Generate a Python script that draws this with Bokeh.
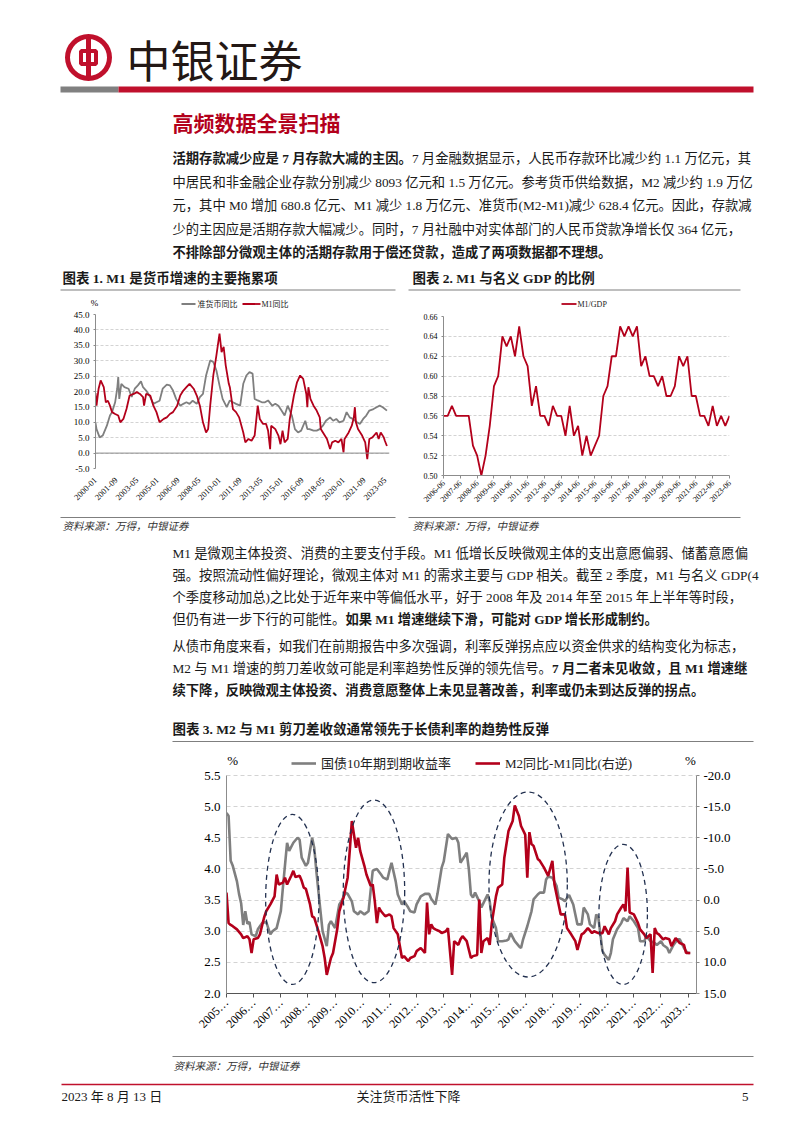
import math
from bokeh.plotting import figure
from bokeh.models import Range1d, LinearAxis, FixedTicker, NumeralTickFormatter, Span, Legend, LegendItem, Label
from bokeh.layouts import column, row
from bokeh.core.properties import value
from bokeh.embed import file_html
from bokeh.resources import INLINE

# ======================= DATA =======================
# Chart 1: monthly, month offset from 2000-01
c1_ticks = [0, 20, 40, 60, 80, 100, 120, 140, 160, 180, 200, 220, 240, 260, 280]
c1_tick_labels = ["2000-01", "2001-09", "2003-05", "2005-01", "2006-09", "2008-05", "2010-01",
                  "2011-09", "2013-05", "2015-01", "2016-09", "2018-05", "2020-01", "2021-09", "2023-05"]
c1_yticks = [-5, 0, 5, 10, 15, 20, 25, 30, 35, 40, 45]
c1_series = ["准货币同比", "M1同比"]
c1_quasi_month = [0, 1, 4, 7, 11, 14, 16, 19, 21, 22, 23, 25, 28, 32, 35, 38, 41, 44, 46, 49, 53, 56, 59, 62,
                  65, 69, 72, 75, 78, 82, 85, 88, 91, 94, 98, 101, 104, 107, 111, 114, 117, 120, 123, 127,
                  130, 133, 136, 140, 143, 146, 149, 152, 154, 157, 161, 164, 167, 171, 174, 177, 180, 183,
                  186, 190, 193, 196, 199, 203, 205, 207, 211, 214, 217, 220, 223, 227, 230, 233, 236, 240,
                  243, 246, 249, 253, 256, 259, 262, 265, 269, 272, 275, 278, 282]
c1_quasi_yoy = [9.8, 7.8, 5.1, 5.7, 8.9, 12.2, 13.3, 16.5, 20.9, 24.7, 17.6, 22.5, 21.4, 20.9, 18.2, 20.9,
                22.0, 23.3, 21.4, 20.3, 18.2, 16.0, 16.5, 17.0, 20.9, 22.2, 22.0, 20.3, 17.6, 15.4, 16.0,
                16.5, 16.0, 17.0, 16.0, 18.2, 19.2, 25.2, 30.1, 29.6, 26.8, 22.0, 17.6, 14.9, 17.1, 16.5,
                16.0, 15.4, 22.5, 25.2, 26.3, 25.8, 17.6, 17.1, 16.5, 16.5, 17.1, 15.4, 16.0, 15.4, 13.8,
                12.2, 15.4, 12.2, 7.8, 6.7, 7.3, 10.5, 7.8, 7.8, 7.3, 7.3, 7.8, 8.9, 10.5, 11.6, 10.5,
                11.1, 10.0, 10.5, 13.3, 11.6, 11.1, 10.0, 9.5, 11.1, 12.2, 13.8, 14.3, 14.9, 15.4, 14.9, 13.8]
c1_m1_month = [0, 1, 3, 5, 8, 10, 12, 14, 16, 19, 22, 24, 27, 30, 33, 37, 40, 43, 46, 47, 49, 53, 56, 59,
               62, 66, 69, 72, 75, 79, 82, 85, 88, 91, 95, 98, 101, 104, 107, 109, 111, 114, 117, 120,
               122, 124, 126, 129, 130, 133, 136, 139, 143, 145, 148, 151, 154, 157, 159, 162, 165, 167,
               169, 170, 174, 177, 179, 181, 183, 186, 188, 192, 195, 198, 201, 204, 205, 206, 208, 211,
               214, 217, 218, 221, 224, 227, 229, 232, 235, 238, 240, 241, 245, 248, 250, 251, 252, 254,
               258, 261, 263, 265, 268, 272, 274, 276, 279, 280, 282]
c1_m1_yoy = [19.5, 15.4, 20.9, 23.6, 21.4, 16.5, 17.0, 15.4, 13.3, 12.7, 12.2, 10.0, 11.1, 14.3, 18.7,
             19.2, 19.8, 19.2, 18.2, 15.4, 19.2, 18.7, 15.4, 13.3, 10.0, 11.1, 11.6, 12.7, 13.3, 15.4,
             18.7, 20.3, 21.4, 22.5, 20.9, 18.7, 15.4, 10.0, 6.7, 7.8, 15.4, 25.2, 31.7, 38.8, 32.8,
             34.5, 28.5, 22.5, 21.4, 14.3, 13.3, 11.6, 6.7, 3.5, 4.6, 4.0, 5.7, 15.4, 11.1, 9.5, 9.5,
             7.3, 1.3, 8.9, 7.8, 5.7, 2.9, 7.3, 3.5, 4.6, 11.1, 18.7, 23.0, 25.2, 24.1, 19.2, 14.9, 21.4,
             17.6, 15.4, 13.8, 11.6, 7.8, 6.2, 4.6, 1.3, 3.5, 4.0, 3.5, 4.6, 0.2, 4.6, 6.7, 8.9, 11.6,
             14.9, 10.0, 7.8, 5.7, 3.5, -2.0, 4.6, 5.1, 6.7, 4.6, 6.7, 5.1, 4.0, 2.3]

# Chart 2: quarterly M1 / nominal GDP, 2006-06 .. 2023-06
c2_series = "M1/GDP"
c2_ratio = [0.56, 0.56, 0.57, 0.56, 0.56, 0.56, 0.56, 0.53, 0.52, 0.50,
            0.52, 0.55, 0.59, 0.60, 0.64, 0.63, 0.64, 0.62, 0.65, 0.62,
            0.61, 0.57, 0.59, 0.56, 0.56, 0.55, 0.57, 0.56, 0.56, 0.54,
            0.57, 0.54, 0.55, 0.52, 0.54, 0.52, 0.53, 0.54, 0.58, 0.59,
            0.62, 0.62, 0.65, 0.64, 0.65, 0.64, 0.65, 0.61, 0.62, 0.60,
            0.60, 0.59, 0.60, 0.58, 0.58, 0.59, 0.62, 0.61, 0.62, 0.58,
            0.58, 0.56, 0.56, 0.55, 0.57, 0.55, 0.56, 0.55, 0.56]
c2_ticks = list(range(0, 69, 4))
c2_tick_labels = ["2006-06", "2007-06", "2008-06", "2009-06", "2010-06", "2011-06", "2012-06", "2013-06",
                  "2014-06", "2015-06", "2016-06", "2017-06", "2018-06", "2019-06", "2020-06", "2021-06",
                  "2022-06", "2023-06"]
c2_yticks = [0.50, 0.52, 0.54, 0.56, 0.58, 0.60, 0.62, 0.64, 0.66]

# Chart 3: monthly, month offset from 2005-01
c3_series = ["国债10年期到期收益率", "M2同比-M1同比(右逆)"]
c3_ticks = list(range(0, 222, 13))
c3_tick_labels = ["2005…", "2006…", "2007…", "2008…", "2009…", "2010…", "2011…", "2012…", "2013…",
                  "2014…", "2015…", "2016…", "2018…", "2019…", "2020…", "2021…", "2022…", "2023…"]
c3_left_ticks = [2.0, 2.5, 3.0, 3.5, 4.0, 4.5, 5.0, 5.5]
c3_right_ticks = [-20, -15, -10, -5, 0, 5, 10, 15]
c3_bond_month = [0, 1, 2, 3, 5, 6, 7, 8, 9, 10, 11, 12, 14, 15, 17, 19, 20, 21, 22, 24, 26, 27, 29, 30, 32,
                 34, 35, 36, 38, 39, 41, 42, 43, 45, 46, 48, 49, 50, 52, 54, 55, 57, 58, 60, 61, 63, 64, 66,
                 68, 69, 70, 72, 74, 75, 77, 78, 79, 81, 82, 84, 85, 87, 88, 90, 91, 93, 95, 97, 98, 100,
                 101, 103, 104, 106, 108, 110, 111, 112, 113, 115, 116, 117, 118, 119, 121, 122, 123, 125,
                 126, 127, 129, 130, 132, 134, 135, 136, 138, 140, 141, 142, 144, 146, 147, 149, 150, 152,
                 153, 154, 156, 158, 159, 161, 162, 164, 166, 167, 168, 170, 171, 173, 174, 176, 177, 178,
                 180, 181, 183, 184, 185, 187, 189, 190, 192, 193, 195, 197, 198, 200, 201, 203, 205, 206,
                 208, 209, 211, 212, 214, 216, 217, 219, 220, 221, 222]
c3_bond_yield = [4.90, 4.85, 4.13, 4.05, 3.80, 3.60, 3.45, 3.10, 3.32, 3.12, 3.15, 2.95, 2.92, 3.03, 3.13,
                 3.15, 3.05, 2.95, 3.00, 3.05, 3.32, 3.70, 4.42, 4.29, 4.42, 4.50, 4.47, 4.18, 4.05, 4.10,
                 4.50, 4.34, 3.97, 3.32, 3.00, 2.76, 3.10, 3.16, 3.05, 3.43, 3.48, 3.62, 3.60, 3.48, 3.32,
                 3.27, 3.32, 3.27, 3.32, 3.65, 3.97, 4.00, 3.91, 3.86, 3.83, 3.97, 4.10, 3.80, 3.59, 3.43,
                 3.48, 3.38, 3.32, 3.30, 3.43, 3.56, 3.60, 3.60, 3.52, 3.43, 3.60, 4.02, 4.12, 4.56, 4.48,
                 4.50, 4.42, 4.10, 4.15, 4.26, 4.00, 3.59, 3.54, 3.62, 3.48, 3.38, 3.45, 3.59, 3.48, 3.22,
                 3.05, 2.84, 2.84, 2.85, 2.87, 2.97, 2.84, 2.76, 2.73, 2.87, 3.08, 3.32, 3.51, 3.59, 3.62,
                 3.62, 3.83, 3.88, 3.86, 3.73, 3.54, 3.51, 3.48, 3.58, 3.43, 3.27, 3.11, 3.11, 3.38, 3.27,
                 3.11, 3.05, 3.27, 3.22, 2.68, 2.62, 2.54, 2.65, 2.87, 3.03, 3.13, 3.21, 3.16, 3.24, 3.16,
                 3.05, 2.84, 2.84, 2.92, 2.84, 2.81, 2.78, 2.84, 2.78, 2.73, 2.65, 2.78, 2.87, 2.87, 2.73,
                 2.68, 2.65, 2.65]
c3_gap_month = [0, 1, 2, 3, 5, 7, 8, 10, 11, 12, 13, 15, 16, 18, 19, 21, 23, 24, 25, 27, 28, 29, 31, 32, 33,
                35, 36, 37, 38, 40, 41, 42, 44, 46, 47, 48, 50, 51, 53, 54, 56, 58, 59, 60, 62, 63, 64, 66,
                67, 69, 70, 71, 72, 73, 74, 76, 78, 79, 80, 82, 84, 85, 87, 88, 90, 91, 93, 95, 96, 97, 98,
                99, 100, 102, 103, 105, 106, 108, 109, 110, 111, 112, 113, 115, 117, 118, 120, 121, 122,
                123, 125, 126, 127, 129, 130, 132, 133, 135, 137, 138, 140, 141, 143, 144, 145, 146, 147,
                149, 150, 152, 154, 156, 157, 159, 160, 162, 163, 165, 167, 168, 170, 171, 173, 175, 176,
                178, 180, 181, 183, 184, 186, 187, 189, 190, 191, 192, 193, 195, 197, 198, 200, 201, 203,
                204, 205, 206, 207, 209, 210, 212, 213, 215, 217, 219, 220, 222]
c3_gap_value = [-1.2, 3.7, 4.0, 4.2, 4.7, 5.5, 6.1, 5.8, 6.3, 8.5, 6.3, 6.1, 5.5, 2.8, 1.8, 0.7, -0.6, -4.1,
                -2.5, -2.8, -3.6, -2.5, -3.9, -4.7, -3.7, -3.9, -3.1, -2.0, -1.8, 0.7, 2.6, 2.8, 5.0, 7.4,
                9.3, 12.0, 9.3, 8.5, 4.7, 1.8, -0.4, -3.6, -7.9, -12.7, -8.4, -10.0, -7.9, -5.5, -4.1, -2.3,
                -2.5, 0.2, 3.7, 1.2, 1.8, 2.6, 2.3, 2.6, 4.5, 5.5, 9.3, 9.0, 9.8, 9.3, 9.0, 8.2, 7.7, 8.5,
                0.4, 5.5, 3.9, 4.5, 4.7, 5.0, 5.3, 5.0, 4.5, 12.0, 6.6, 6.9, 7.2, 6.3, 5.8, 6.6, 9.3, 9.0,
                8.8, -0.1, 8.5, 6.6, 6.1, 7.2, 3.7, -0.6, -2.0, -2.5, -6.8, -11.1, -12.7, -15.2, -13.5,
                -11.9, -10.5, -3.6, -10.9, -9.0, -8.7, -6.6, -6.3, -5.2, -3.9, -6.3, -2.5, 0.7, 2.3, 2.3,
                4.5, 5.5, 6.6, 8.0, 5.5, 5.3, 4.5, 5.3, 5.0, 5.3, 5.3, 4.2, 5.5, 4.5, 3.4, 2.3, 1.2, 0.7,
                1.8, -5.2, 2.0, 2.3, 3.7, 4.7, 5.5, 6.1, 5.5, 11.7, 4.5, 5.3, 5.5, 6.3, 6.1, 6.3, 7.4, 6.1,
                6.9, 7.2, 8.5, 8.5]
# highlighted periods (dashed ellipses): centre month, centre yield, width in months, height in yield
c3_ellipse_month = [31.5, 70.6, 144.4, 189.9]
c3_ellipse_yield = [3.51, 3.64, 3.75, 3.27]
c3_ellipse_months_wide = [25.5, 29.4, 37.5, 23.2]
c3_ellipse_yield_tall = [2.73, 2.93, 2.97, 2.25]

# ======================= STYLE =======================
SERIF = "Liberation Serif, Noto Sans CJK SC"
SANS = "Noto Sans CJK SC"
RED = "#B3001B"
BRAND = "#C0102C"
GRAY = "#7F7F7F"
AXIS = "#8C8C8C"
GRID = "#D3D3D3"
INK = "#1A1A1A"
W = 802
PS = 13.3  # paragraph font size


def tw(s, size, bold=False):
    w = 0.0
    for ch in s:
        if ord(ch) > 0x2000:
            w += 1.0
        elif ch == " ":
            w += 0.25
        elif ch.isdigit():
            w += 0.5
        elif ch in ".,":
            w += 0.25
        elif ch in "()-":
            w += 0.333
        elif ch == "M":
            w += 0.944 if bold else 0.889
        elif ch in "GD":
            w += 0.778 if bold else 0.722
        elif ch == "P":
            w += 0.611 if bold else 0.556
        else:
            w += 0.5
    return w * size


def sheet(y0, y1):
    return figure(width=W, height=y1 - y0, x_range=Range1d(0, W), y_range=Range1d(y1, y0),
                  x_axis_type=None, y_axis_type=None, toolbar_location=None, frame_align=False,
                  output_backend="svg", min_border=0, outline_line_color=None)


def txt(p, x, y, s, size="13.3px", font=SERIF, style="normal", color=INK, align="left"):
    p.text(x=[x], y=[y], text=[s], text_font=value(font), text_font_size=size,
           text_font_style=style, text_color=color, text_align=align, text_baseline="middle")


def para(p, x, y, parts, size=PS):
    for s, bold in parts:
        txt(p, x, y, s, size="%spx" % size, style="bold" if bold else "normal")
        x += tw(s, size, bold)


def hline(p, x0, x1, y, color=GRAY, width=1.0):
    p.segment(x0=[x0], y0=[y], x1=[x1], y1=[y], line_color=color, line_width=width)


def key(p, x0, x1, y, color, width, label, size, gap=2):
    hline(p, x0, x1, y, color=color, width=width)
    txt(p, x1 + gap, y, label, size=size, color="#222222")


SRC = "资料来源：万得，中银证券"

# ======================= SEGMENT 1 : header + paragraph 1 + chart titles + legends =======================
s1 = sheet(0, 310)
s1.annulus(x=[88], y=[57], inner_radius=18.5, outer_radius=23.5, fill_color=BRAND, line_color=None)
s1.rect(x=[88], y=[57], width=15, height=13, fill_color=None, line_color=BRAND, line_width=4)
s1.rect(x=[88], y=[57], width=5, height=41, fill_color=BRAND, line_color=None)
txt(s1, 126, 58, "中银证券", size="44px", font=SANS, color="#231815")
s1.quad(left=[60, 118], right=[118, 753], top=[86, 86], bottom=[92, 92],
        fill_color=["#808080", BRAND], line_color=None)
txt(s1, 172, 121, "高频数据全景扫描", size="21px", font=SANS, style="bold", color=RED)

para(s1, 172, 158, [("活期存款减少应是 7 月存款大减的主因。", True),
                    ("7 月金融数据显示，人民币存款环比减少约 1.1 万亿元，其", False)])
para(s1, 172, 182, [("中居民和非金融企业存款分别减少 8093 亿元和 1.5 万亿元。参考货币供给数据，M2 减少约 1.9 万亿", False)])
para(s1, 172, 205, [("元，其中 M0 增加 680.8 亿元、M1 减少 1.8 万亿元、准货币(M2-M1)减少 628.4 亿元。因此，存款减", False)])
para(s1, 172, 229, [("少的主因应是活期存款大幅减少。同时，7 月社融中对实体部门的人民币贷款净增长仅 364 亿元，", False)])
para(s1, 172, 252, [("不排除部分微观主体的活期存款用于偿还贷款，造成了两项数据都不理想。", True)])

txt(s1, 62, 278, "图表 1. M1 是货币增速的主要拖累项", size="13.5px", style="bold")
txt(s1, 412, 278, "图表 2. M1 与名义 GDP 的比例", size="13.5px", style="bold")
hline(s1, 60, 395, 289.5, width=1.2)
hline(s1, 408, 740, 289.5, width=1.2)
# legends of charts 1 and 2
txt(s1, 94, 302, "%", size="9px", align="center", color="#000000")
key(s1, 181, 195, 303.5, GRAY, 1.8, c1_series[0], "8px")
key(s1, 242, 260, 303.5, RED, 1.8, c1_series[1], "8px", gap=1)
key(s1, 561, 576, 303.5, RED, 1.8, c2_series, "8px", gap=1)


# ======================= CHART 1 =======================
def style_y(ax, size):
    ax.axis_line_color = AXIS
    ax.major_tick_line_color = AXIS
    ax.major_tick_in = 0
    ax.major_tick_out = 2
    ax.minor_tick_line_color = None
    ax.major_label_text_font = SERIF
    ax.major_label_text_font_size = size
    ax.major_label_text_color = "#000000"
    ax.major_label_standoff = 4


def style_x(ax, size, ticks, labels):
    ax.ticker = FixedTicker(ticks=ticks)
    ax.major_label_overrides = {t: l for t, l in zip(ticks, labels)}
    ax.major_label_orientation = math.pi / 4
    ax.major_label_text_font = SERIF
    ax.major_label_text_font_size = size
    ax.major_label_text_color = "#000000"
    ax.minor_tick_line_color = None


c1 = figure(width=400, height=202, x_range=Range1d(0, 284.5), y_range=Range1d(-5, 45),
            toolbar_location=None, output_backend="svg", outline_line_color=None, frame_align=False,
            min_border_left=95, min_border_right=11, min_border_top=4, min_border_bottom=44)
c1.xgrid.visible = False
c1.ygrid.ticker = FixedTicker(ticks=c1_yticks)
c1.ygrid.grid_line_color = GRID
c1.ygrid.grid_line_dash = "3 2"
style_y(c1.yaxis[0], "9px")
c1.yaxis[0].ticker = FixedTicker(ticks=c1_yticks)
c1.yaxis[0].formatter = NumeralTickFormatter(format="0.0")
style_x(c1.xaxis[0], "8.5px", c1_ticks, c1_tick_labels)
c1.xaxis[0].axis_line_color = None
c1.xaxis[0].major_tick_line_color = None
c1.xaxis[0].major_label_standoff = 4
c1.add_layout(Span(location=0, dimension="width", line_color=AXIS, line_width=1))
c1.line(c1_quasi_month, c1_quasi_yoy, line_color=GRAY, line_width=1.8)
c1.line(c1_m1_month, c1_m1_yoy, line_color=RED, line_width=1.8)

# ======================= CHART 2 =======================
c2 = figure(width=402, height=202, x_range=Range1d(0, 68), y_range=Range1d(0.50, 0.66),
            toolbar_location=None, output_backend="svg", outline_line_color=None, frame_align=False,
            min_border_left=43, min_border_right=73, min_border_top=6, min_border_bottom=37)
c2.xgrid.visible = False
c2.ygrid.ticker = FixedTicker(ticks=c2_yticks[1:])
c2.ygrid.grid_line_color = GRID
c2.ygrid.grid_line_dash = "3 2"
style_y(c2.yaxis[0], "8px")
c2.yaxis[0].ticker = FixedTicker(ticks=c2_yticks)
c2.yaxis[0].formatter = NumeralTickFormatter(format="0.00")
style_x(c2.xaxis[0], "8px", c2_ticks, c2_tick_labels)
c2.xaxis[0].axis_line_color = AXIS
c2.xaxis[0].major_tick_line_color = AXIS
c2.xaxis[0].major_tick_in = 0
c2.xaxis[0].major_tick_out = 3
c2.xaxis[0].major_label_standoff = 3
c2.line(list(range(len(c2_ratio))), c2_ratio, line_color=RED, line_width=1.8)

# ======================= SEGMENT 3 : sources + paragraphs 2/3 + chart 3 title =======================
s3 = sheet(512, 750)
hline(s3, 60, 395, 517)
hline(s3, 408, 740, 517)
txt(s3, 62, 526, SRC, size="10.5px", style="italic", color="#333333")
txt(s3, 412, 526, SRC, size="10.5px", style="italic", color="#333333")
para(s3, 172, 553, [("M1 是微观主体投资、消费的主要支付手段。M1 低增长反映微观主体的支出意愿偏弱、储蓄意愿偏", False)])
para(s3, 172, 575, [("强。按照流动性偏好理论，微观主体对 M1 的需求主要与 GDP 相关。截至 2 季度，M1 与名义 GDP(4", False)])
para(s3, 172, 597, [("个季度移动加总)之比处于近年来中等偏低水平，好于 2008 年及 2014 年至 2015 年上半年等时段，", False)])
para(s3, 172, 619, [("但仍有进一步下行的可能性。", False), ("如果 M1 增速继续下滑，可能对 GDP 增长形成制约。", True)])
para(s3, 172, 646, [("从债市角度来看，如我们在前期报告中多次强调，利率反弹拐点应以资金供求的结构变化为标志，", False)])
para(s3, 172, 668, [("M2 与 M1 增速的剪刀差收敛可能是利率趋势性反弹的领先信号。", False), ("7 月二者未见收敛，且 M1 增速继", True)])
para(s3, 172, 690, [("续下降，反映微观主体投资、消费意愿整体上未见显著改善，利率或仍未到达反弹的拐点。", True)])
txt(s3, 172, 729, "图表 3. M2 与 M1 剪刀差收敛通常领先于长债利率的趋势性反弹", size="13.5px", style="bold")
hline(s3, 172, 753, 741, width=1.2)

# ======================= CHART 3 =======================
# frame: x 226..696, y 750..993 ; the 5.5 tick sits 25px below the frame top
c3 = figure(width=W, height=298, x_range=Range1d(0, 225), y_range=Range1d(2.0, 5.9014),
            toolbar_location=None, output_backend="svg", outline_line_color=None, frame_align=False,
            min_border_left=226, min_border_right=106, min_border_top=0, min_border_bottom=55)
c3.extra_y_ranges = {"gap": Range1d(start=15, end=-24.014)}
c3.xgrid.visible = False
c3.ygrid.ticker = FixedTicker(ticks=c3_left_ticks[1:])
c3.ygrid.grid_line_color = GRID
c3.ygrid.grid_line_dash = "4 3"
style_y(c3.yaxis[0], "13px")
c3.yaxis[0].ticker = FixedTicker(ticks=c3_left_ticks)
c3.yaxis[0].formatter = NumeralTickFormatter(format="0.0")
c3.yaxis[0].major_tick_line_color = None
c3.yaxis[0].bounds = (2.0, 5.5)
rax = LinearAxis(y_range_name="gap", ticker=FixedTicker(ticks=c3_right_ticks),
                 formatter=NumeralTickFormatter(format="0.0"), bounds=(-20, 15))
style_y(rax, "13px")
rax.major_tick_out = 3
c3.add_layout(rax, "right")
style_x(c3.xaxis[0], "12px", c3_ticks, c3_tick_labels)
c3.xaxis[0].axis_line_color = "#555555"
c3.xaxis[0].major_tick_line_color = "#555555"
c3.xaxis[0].major_tick_in = 0
c3.xaxis[0].major_tick_out = 4
c3.xaxis[0].major_label_standoff = 3
g3 = c3.line(c3_bond_month, c3_bond_yield, line_color=GRAY, line_width=2.6)
r3 = c3.line(c3_gap_month, c3_gap_value, y_range_name="gap", line_color=RED, line_width=2.6)
c3.ellipse(x=c3_ellipse_month, y=c3_ellipse_yield, width=c3_ellipse_months_wide,
           height=c3_ellipse_yield_tall, fill_color=None, line_color="#22304F",
           line_width=1.3, line_dash="5 4")
leg3 = Legend(items=[LegendItem(label=c3_series[0], renderers=[g3]),
                     LegendItem(label=c3_series[1], renderers=[r3])],
              location=(65, 221), orientation="horizontal", glyph_width=25, glyph_height=12,
              label_height=12, label_width=10, label_standoff=5, spacing=24, padding=0, margin=0,
              border_line_color=None, background_fill_alpha=0, label_text_font=SERIF,
              label_text_font_size="13px", label_text_color="#222222")
c3.add_layout(leg3)
c3.add_layout(Label(x=2.9, y=5.74, text="%", text_align="center", text_baseline="middle",
                    text_font=SERIF, text_font_size="13px", text_color="#000000"))
c3.add_layout(Label(x=222.1, y=5.74, text="%", text_align="center", text_baseline="middle",
                    text_font=SERIF, text_font_size="13px", text_color="#000000"))

# ======================= SEGMENT 5 : source + footer =======================
s5 = sheet(1048, 1125)
hline(s5, 172, 753, 1056, width=1.2)
txt(s5, 173, 1066, SRC, size="10.5px", style="italic", color="#333333")
hline(s5, 61, 753, 1084, color=BRAND, width=1.6)
txt(s5, 61, 1096, "2023 年 8 月 13 日", size="13px")
txt(s5, 408, 1096, "关注货币活性下降", size="13px", align="center")
txt(s5, 748, 1096, "5", size="13px", align="right")

page = column(s1, row(c1, c2), s3, c3, s5)
open("out.html", "w").write(file_html(page, INLINE))
